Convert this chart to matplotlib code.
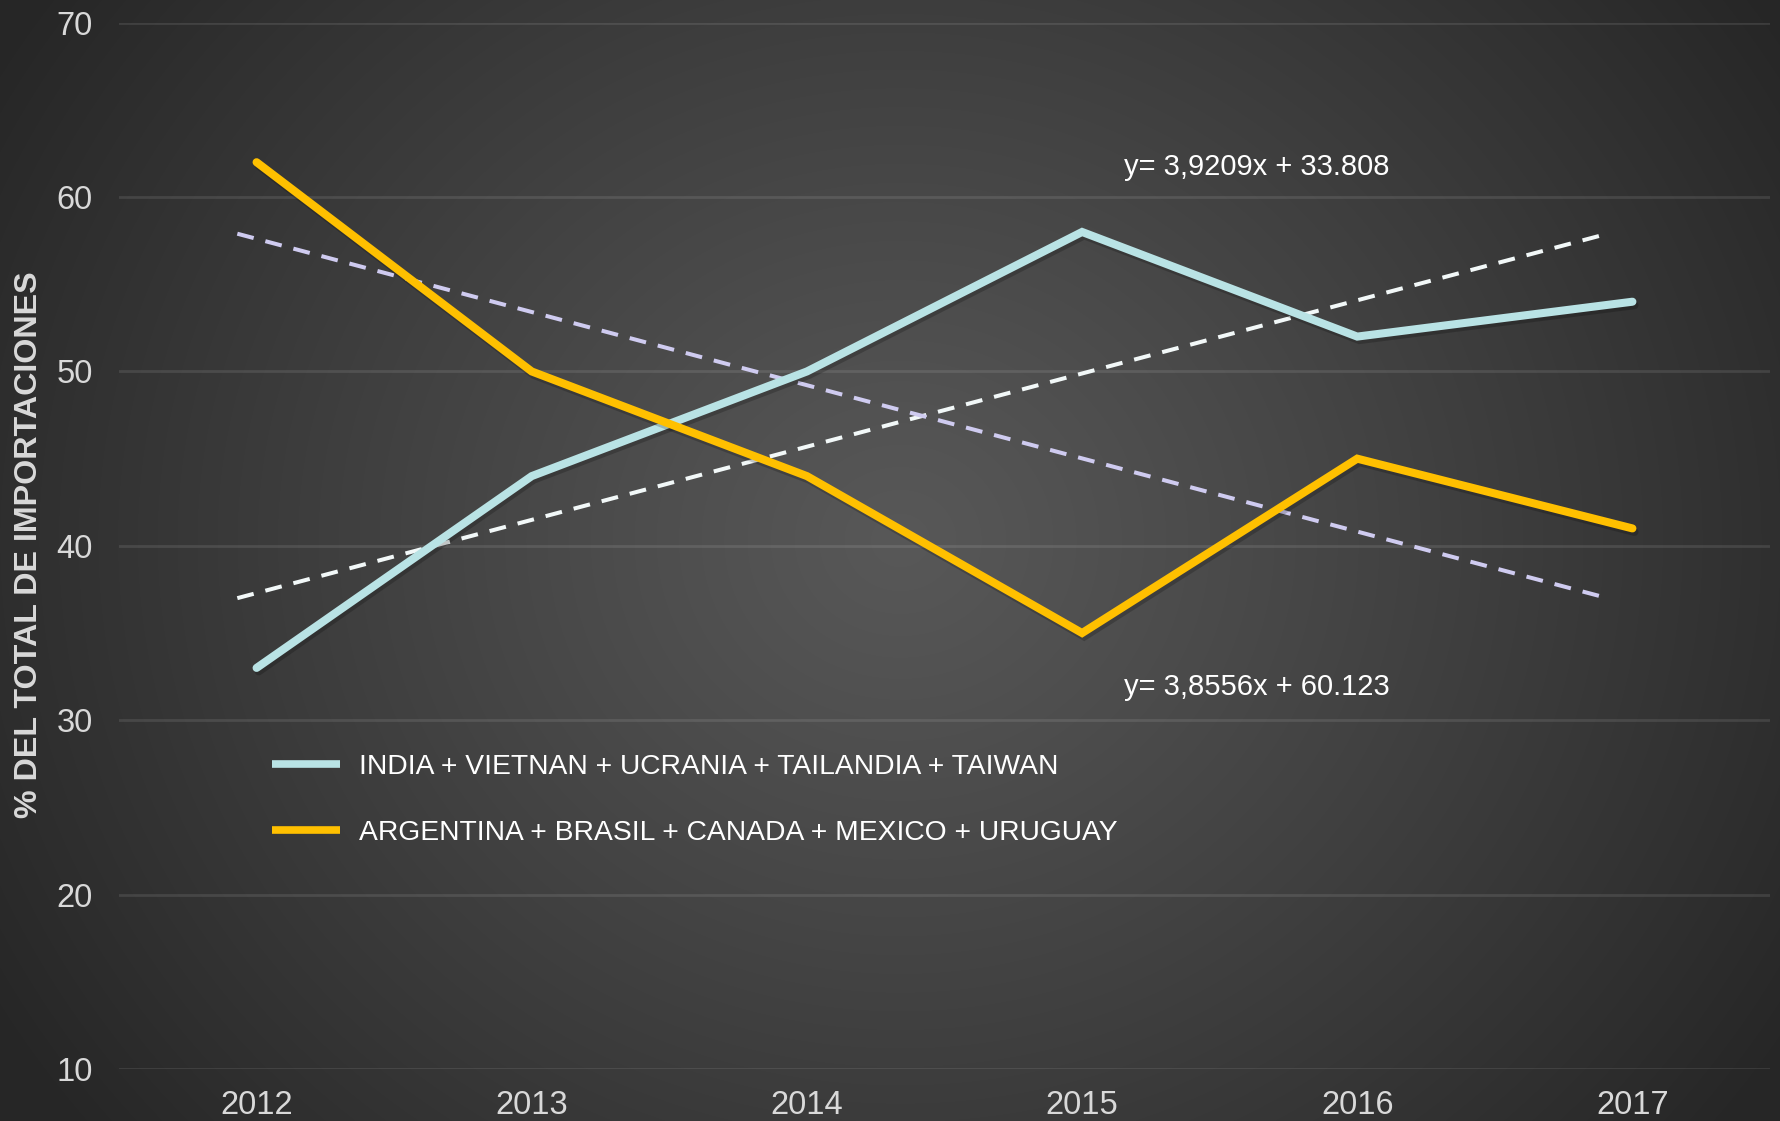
import numpy as np
import matplotlib
matplotlib.use("Agg")
import matplotlib.pyplot as plt
import matplotlib.patheffects as pe

years = ["2012", "2013", "2014", "2015", "2016", "2017"]
asia = [33, 44, 50, 58, 52, 54]
america = [62, 50, 44, 35, 45, 41]
asia_label = "INDIA + VIETNAN + UCRANIA + TAILANDIA + TAIWAN"
america_label = "ARGENTINA + BRASIL + CANADA + MEXICO + URUGUAY"
# trend line values at start / end as drawn in the picture
trend_asia = [37.0, 57.9]
trend_america = [57.9, 37.0]
eq_asia = "y= 3,9209x + 33.808"
eq_america = "y= 3,8556x + 60.123"

plt.rcParams['font.family'] = ['Liberation Sans', 'DejaVu Sans']

fig = plt.figure(figsize=(17.81, 11.21), dpi=100)

# radial gradient background
bg = fig.add_axes([0, 0, 1, 1])
h, w = 1121, 1781
yy, xx = np.mgrid[0:h, 0:w]
r = np.sqrt(((xx - 900) / 1050.0) ** 2 + ((yy - 540) / 950.0) ** 2)
r = np.clip(r, 0, 1)
shade = 0.345 - (0.345 - 0.15) * r ** 1.1
img = np.dstack([shade, shade, shade])
bg.imshow(img, aspect="auto", extent=[0, 1, 0, 1])
bg.axis("off")

ax = fig.add_axes([119 / 1781, 1 - 1069 / 1121, (1770 - 119) / 1781, (1069 - 22.7) / 1121])
ax.patch.set_alpha(0)
x = np.arange(len(years))

shadow = [pe.SimpleLineShadow(offset=(1.5, -2.5), alpha=0.2, shadow_color="black"), pe.Normal()]

l1, = ax.plot(x, asia, color="#B9E3E5", lw=5.8, solid_capstyle="round",
              solid_joinstyle="miter", label=asia_label, path_effects=shadow, zorder=4)
l2, = ax.plot(x, america, color="#FFC000", lw=5.8, solid_capstyle="round",
              solid_joinstyle="miter", label=america_label, path_effects=shadow, zorder=4)

tx = [x[0] - 0.07, x[-1] - 0.09]
ax.plot(tx, trend_asia, color="#F2F8F8", lw=2.9, dashes=(4.2, 3), zorder=3)
ax.plot(tx, trend_america, color="#CFCBF0", lw=2.9, dashes=(4.2, 3), zorder=3)

ax.text(3.154, 61.7, eq_asia, color="white", fontsize=21, va="center", ha="left")
ax.text(3.154, 31.9, eq_america, color="white", fontsize=21, va="center", ha="left")

ax.set_xlim(-0.5, 5.5)
ax.set_ylim(10, 70)
ax.set_yticks(range(10, 71, 10))
ax.set_xticks(x)
ax.set_xticklabels(years)
ax.tick_params(axis="both", length=0, colors="#D9D9D9", labelsize=23.5)
ax.tick_params(axis="y", pad=19)
ax.tick_params(axis="x", pad=15)
for s in ax.spines.values():
    s.set_visible(False)
ax.grid(axis="y", color="#FFFFFF", alpha=0.1, lw=2)
ax.set_axisbelow(True)

fig.text(29 / 1781, 1 - 545 / 1121, "% DEL TOTAL DE IMPORTACIONES", rotation=90,
         color="#D9D9D9", fontsize=23.2, fontweight="bold", ha="center", va="center")

leg = fig.legend(handles=[l1, l2], loc="center left",
                 bbox_to_anchor=(247 / 1781, 1 - 800 / 1121),
                 frameon=False, handlelength=2.4, handletextpad=0.67,
                 labelspacing=1.43, prop={"size": 20.3})
for t in leg.get_texts():
    t.set_color("white")
for lh in leg.get_lines():
    lh.set_linewidth(5.5)
    lh.set_solid_capstyle("butt")
    lh.set_path_effects([])

fig.savefig("out.png", dpi=100)
